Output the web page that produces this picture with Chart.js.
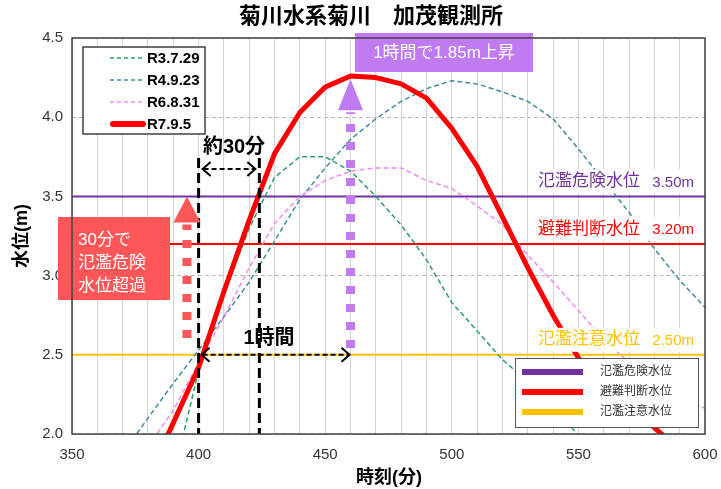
<!DOCTYPE html>
<html>
<head>
<meta charset="utf-8">
<script src="https://cdn.jsdelivr.net/npm/chart.js@4.4.1/dist/chart.umd.min.js"></script>
<style>
  html, body { margin: 0; padding: 0; background: #fff; }
</style>
</head>
<body>
<canvas id="waterChart" width="721" height="489"></canvas>
<script>
// time axis (minutes) shared by every series
const minutes = [370, 380, 390, 400, 410, 420, 430, 440, 450, 460, 470, 480,
                 490, 500, 510, 520, 530, 540, 550, 560, 570, 580, 590, 600];

const seriesNames = ['R3.7.29', 'R4.9.23', 'R6.8.31', 'R7.9.5'];
const levelR3 = [null, null, 1.73, 2.40, 2.88, 3.30, 3.62, 3.75, 3.75, 3.66, 3.50, 3.32,
                 3.10, 2.83, 2.65, 2.47, 2.33, 2.18, 1.99, 1.85, null, null, null, null];
const levelR4 = [1.88, 2.10, 2.32, 2.53, 2.74, 2.96, 3.22, 3.48, 3.68, 3.86, 3.99, 4.10,
                 4.18, 4.23, 4.21, 4.16, 4.10, 3.99, 3.80, 3.60, 3.40, 3.17, 2.97, 2.80];
const levelR6 = [null, 1.92, 2.15, 2.45, 2.74, 3.05, 3.33, 3.50, 3.60, 3.66, 3.68, 3.68,
                 3.60, 3.55, 3.44, 3.32, 3.13, 2.96, 2.78, 2.60, 2.45, 2.33, 2.24, 2.16];
const levelR7 = [null, 1.72, 2.07, 2.42, 2.90, 3.35, 3.77, 4.03, 4.19, 4.26, 4.25, 4.21,
                 4.12, 3.93, 3.69, 3.37, 3.05, 2.75, 2.48, 2.33, 2.18, 2.04, 1.90, null];

// warning levels
const thresholdNames = ['氾濫危険水位', '避難判断水位', '氾濫注意水位'];
const thresholdLevels = [3.5, 3.2, 2.5];
const thresholdColors = ['#7030a0', '#ff0000', '#ffc000'];

const xTicks = [350, 400, 450, 500, 550, 600];
const yTicks = [2.0, 2.5, 3.0, 3.5, 4.0, 4.5];

// annotation anchors in data units
const riseStart = 400, dangerCross = 424, peakTime = 460;

const seriesStyles = [
  { color: '#2e9f6b', width: 1.5, dash: [5, 3] },
  { color: '#3f8c9e', width: 1.5, dash: [5, 3] },
  { color: '#ef8cef', width: 1.5, dash: [5, 3] },
  { color: '#ff0000', width: 5, dash: [] }
];
const seriesLevels = [levelR3, levelR4, levelR6, levelR7];

const FONT = '"Liberation Sans", "Noto Sans CJK JP", sans-serif';

const datasets = seriesNames.map((name, i) => ({
  label: name,
  data: minutes.map((m, j) => ({ x: m, y: seriesLevels[i][j] })),
  borderColor: seriesStyles[i].color,
  borderWidth: seriesStyles[i].width,
  borderDash: seriesStyles[i].dash,
  borderJoinStyle: 'round',
  pointRadius: 0,
  tension: 0,
  clip: 0,
  order: 4 - i
}));

thresholdNames.forEach((name, i) => {
  datasets.push({
    label: name,
    data: [{ x: xTicks[0], y: thresholdLevels[i] }, { x: xTicks[xTicks.length - 1], y: thresholdLevels[i] }],
    borderColor: thresholdColors[i],
    borderWidth: 2,
    pointRadius: 0,
    clip: 0,
    order: 10
  });
});

function blockArrow(ctx, px, yFrom, yTip, color, headW, headH) {
  ctx.save();
  ctx.strokeStyle = color;
  ctx.lineWidth = 9;
  ctx.setLineDash([8, 10]);
  ctx.beginPath();
  ctx.moveTo(px, yFrom);
  ctx.lineTo(px, yTip + headH + 2);
  ctx.stroke();
  ctx.setLineDash([]);
  ctx.fillStyle = color;
  ctx.beginPath();
  ctx.moveTo(px, yTip);
  ctx.lineTo(px - headW / 2, yTip + headH);
  ctx.lineTo(px + headW / 2, yTip + headH);
  ctx.closePath();
  ctx.fill();
  ctx.restore();
}

function doubleArrow(ctx, x1, x2, yy) {
  ctx.save();
  ctx.strokeStyle = '#000';
  ctx.lineWidth = 2;
  ctx.setLineDash([5, 3]);
  ctx.beginPath();
  ctx.moveTo(x1 + 2, yy);
  ctx.lineTo(x2 - 2, yy);
  ctx.stroke();
  ctx.setLineDash([]);
  ctx.beginPath();
  ctx.moveTo(x1 + 9, yy - 7); ctx.lineTo(x1 + 1, yy); ctx.lineTo(x1 + 9, yy + 7);
  ctx.moveTo(x2 - 9, yy - 7); ctx.lineTo(x2 - 1, yy); ctx.lineTo(x2 - 9, yy + 7);
  ctx.stroke();
  ctx.restore();
}

const overlay = {
  id: 'overlay',
  afterDatasetsDraw(chart) {
    const { ctx, chartArea: a, scales: { x, y } } = chart;
    ctx.save();

    // labels for the warning levels
    thresholdNames.forEach((name, i) => {
      const ly = y.getPixelForValue(thresholdLevels[i]) - 15;
      ctx.fillStyle = '#fff';
      ctx.fillRect(535, ly - 12, 162, 24);
      ctx.fillStyle = thresholdColors[i];
      ctx.textBaseline = 'middle';
      ctx.textAlign = 'left';
      ctx.font = '17px ' + FONT;
      ctx.fillText(name, 538, ly);
      ctx.textAlign = 'right';
      ctx.font = '15px ' + FONT;
      ctx.fillText(thresholdLevels[i].toFixed(2) + 'm', 694, ly + 1);
    });

    // vertical dashed markers
    const x400 = x.getPixelForValue(riseStart);
    const x424 = x.getPixelForValue(dangerCross);
    ctx.strokeStyle = '#000';
    ctx.lineWidth = 3;
    ctx.setLineDash([10, 5]);
    [x400, x424].forEach(px => {
      ctx.beginPath();
      ctx.moveTo(px, 158);
      ctx.lineTo(px, a.bottom);
      ctx.stroke();
    });
    ctx.setLineDash([]);

    doubleArrow(ctx, x400 + 3, x424 - 3, 169);
    const xPeak = x.getPixelForValue(peakTime);
    doubleArrow(ctx, x400 + 2, xPeak, y.getPixelForValue(2.5));

    ctx.fillStyle = '#000';
    ctx.font = 'bold 20px ' + FONT;
    ctx.textAlign = 'center';
    ctx.textBaseline = 'middle';
    ctx.fillText('約30分', 234, 147);
    ctx.fillText('1時間', 269, 338);

    // purple rise arrow and box
    blockArrow(ctx, xPeak, 348, y.getPixelForValue(4.24), '#c07af2', 25, 31);
    ctx.fillStyle = '#c07af2';
    ctx.fillRect(355, 33, 178, 39);
    ctx.fillStyle = '#fff';
    ctx.font = '17px ' + FONT;
    ctx.fillText('1時間で1.85m上昇', 444, 53);

    // red exceed arrow and box
    blockArrow(ctx, x.getPixelForValue(395.4), 338, y.getPixelForValue(3.5), '#ff5757', 27, 26);
    ctx.fillStyle = '#ff5757';
    ctx.fillRect(58, 217, 112, 83);
    ctx.fillStyle = '#fff';
    ctx.textAlign = 'left';
    ctx.font = '17px ' + FONT;
    ctx.fillText('30分で', 78, 240);
    ctx.fillText('氾濫危険', 78, 263);
    ctx.fillText('水位超過', 78, 286);

    // series legend (top left)
    ctx.fillStyle = '#fff';
    ctx.fillRect(83, 47, 122, 87);
    ctx.strokeStyle = '#404040';
    ctx.lineWidth = 1.5;
    ctx.strokeRect(83, 47, 122, 87);
    seriesNames.forEach((name, i) => {
      const ly = 58 + i * 22;
      const st = seriesStyles[i];
      ctx.strokeStyle = st.color;
      ctx.lineWidth = i === 3 ? 6 : 1.5;
      ctx.lineCap = i === 3 ? 'round' : 'butt';
      ctx.setLineDash(i === 3 ? [] : [4, 3]);
      ctx.beginPath();
      ctx.moveTo(i === 3 ? 113 : 110, ly);
      ctx.lineTo(i === 3 ? 143 : 145, ly);
      ctx.stroke();
      ctx.setLineDash([]);
      ctx.lineCap = 'butt';
      ctx.fillStyle = '#000';
      ctx.font = 'bold 15px ' + FONT;
      ctx.textAlign = 'left';
      ctx.fillText(name, 147, ly + 1);
    });

    // warning level legend (bottom right)
    ctx.fillStyle = '#fff';
    ctx.fillRect(515, 358, 183, 69);
    ctx.strokeStyle = '#555';
    ctx.lineWidth = 1;
    ctx.strokeRect(515.5, 358.5, 183, 69);
    thresholdNames.forEach((name, i) => {
      const ly = [372, 392, 412][i];
      ctx.strokeStyle = thresholdColors[i];
      ctx.lineWidth = 6;
      ctx.beginPath();
      ctx.moveTo(522, ly);
      ctx.lineTo(583, ly);
      ctx.stroke();
      ctx.fillStyle = '#333';
      ctx.font = '12px ' + FONT;
      ctx.fillText(name, 600, ly);
    });

    // plot frame
    ctx.strokeStyle = '#404040';
    ctx.lineWidth = 1.5;
    ctx.strokeRect(a.left, a.top, a.right - a.left, a.bottom - a.top);

    // titles
    ctx.fillStyle = '#000';
    ctx.textAlign = 'center';
    ctx.font = 'bold 22px ' + FONT;
    ctx.fillText('菊川水系菊川　加茂観測所', 371, 17);
    ctx.font = 'bold 18px ' + FONT;
    ctx.fillText('時刻(分)', 389, 478);
    ctx.translate(22, 236);
    ctx.rotate(-Math.PI / 2);
    ctx.fillText('水位(m)', 0, 0);
    ctx.restore();
  }
};

new Chart(document.getElementById('waterChart'), {
  type: 'line',
  data: { datasets },
  options: {
    responsive: false,
    devicePixelRatio: 1,
    animation: false,
    layout: { padding: { top: 38, right: 16, left: 0, bottom: 0 } },
    plugins: { legend: { display: false }, tooltip: { enabled: false }, title: { display: false } },
    scales: {
      x: {
        type: 'linear',
        min: xTicks[0],
        max: xTicks[xTicks.length - 1],
        afterFit: s => { s.height = 55; s.paddingLeft = 0; s.paddingRight = 0; },
        grid: { color: '#d4d4d4', drawTicks: false },
        border: { display: false },
        ticks: {
          stepSize: 10,
          autoSkip: false,
          maxRotation: 0,
          padding: 12,
          color: '#333',
          font: { size: 15, family: FONT },
          callback: v => xTicks.includes(v) ? String(v) : ''
        }
      },
      y: {
        min: yTicks[0],
        max: yTicks[yTicks.length - 1],
        afterFit: s => { s.width = 72; s.paddingTop = 0; s.paddingBottom = 0; },
        grid: { color: '#b8b8b8', drawTicks: false },
        border: { display: false, dash: [4, 3] },
        ticks: {
          stepSize: 0.5,
          padding: 9,
          color: '#333',
          font: { size: 15, family: FONT },
          callback: v => v.toFixed(1)
        }
      }
    }
  },
  plugins: [overlay]
});
</script>
</body>
</html>
